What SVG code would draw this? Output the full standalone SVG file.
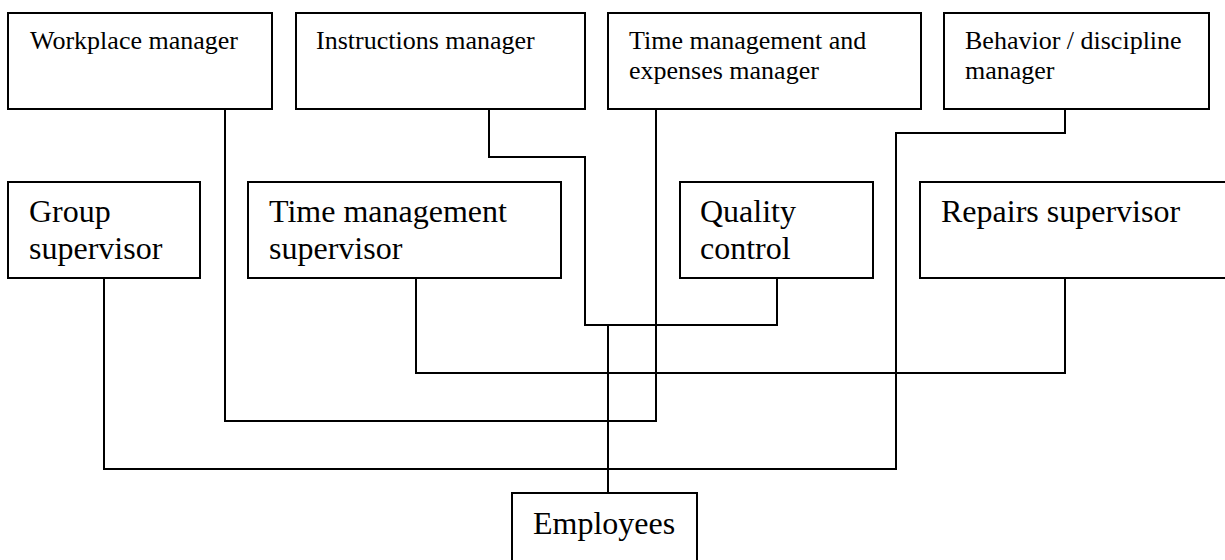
<svg xmlns="http://www.w3.org/2000/svg" width="1225" height="560" viewBox="0 0 1225 560">
<style>
.box{fill:#fff;stroke:#000;stroke-width:2}
.ln{fill:none;stroke:#000;stroke-width:2}
.t1{font-family:"Liberation Serif","Times New Roman",serif;font-size:26px;fill:#000}
.t2{font-family:"Liberation Serif","Times New Roman",serif;font-size:32px;fill:#000}
</style>
<rect width="1225" height="560" fill="#fff"/>
<g id="connectors">
<path class="ln" d="M225,109 V421 H656 V109"/>
<path class="ln" d="M489,109 V157 H585 V325 H777 V278"/>
<path class="ln" d="M416,278 V373 H1065 V278"/>
<path class="ln" d="M1065,109 V133 H896 V469 H104 V278"/>
<path class="ln" d="M608,325 V493"/>
</g>
<g id="workplace"><rect class="box" x="8" y="13" width="264" height="96"/><text class="t1" x="30" y="49">Workplace manager</text></g>
<g id="instructions"><rect class="box" x="296" y="13" width="289" height="96"/><text class="t1" x="316" y="49">Instructions manager</text></g>
<g id="timeexpenses"><rect class="box" x="608" y="13" width="313" height="96"/><text class="t1" x="629" y="49">Time management and</text><text class="t1" x="629" y="79">expenses manager</text></g>
<g id="behavior"><rect class="box" x="944" y="13" width="265" height="96"/><text class="t1" x="965" y="49">Behavior / discipline</text><text class="t1" x="965" y="79">manager</text></g>
<g id="group"><rect class="box" x="8" y="182" width="192" height="96"/><text class="t2" x="29" y="222">Group</text><text class="t2" x="29" y="259">supervisor</text></g>
<g id="timesupervisor"><rect class="box" x="248" y="182" width="313" height="96"/><text class="t2" x="269" y="222">Time management</text><text class="t2" x="269" y="259">supervisor</text></g>
<g id="quality"><rect class="box" x="680" y="182" width="193" height="96"/><text class="t2" x="700" y="222">Quality</text><text class="t2" x="700" y="259">control</text></g>
<g id="repairs"><rect class="box" x="920" y="182" width="330" height="96"/><text class="t2" x="941" y="222">Repairs supervisor</text></g>
<g id="employees"><rect class="box" x="512" y="493" width="185" height="80"/><text class="t2" x="533" y="534">Employees</text></g>
</svg>
